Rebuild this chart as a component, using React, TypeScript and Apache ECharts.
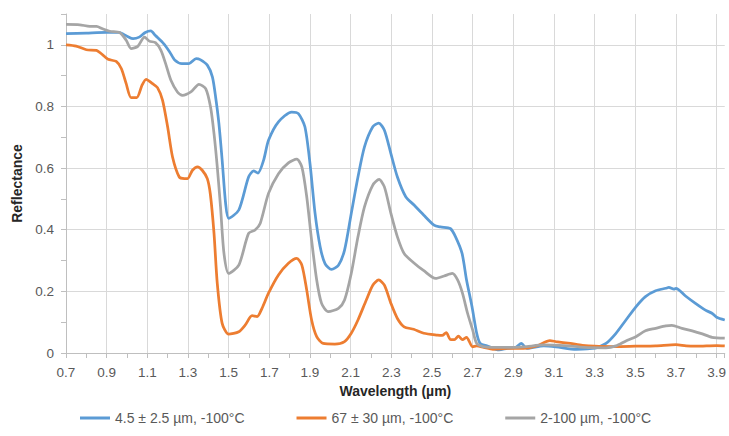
import React, { useEffect, useRef } from "react";
import * as echarts from "echarts";

const seriesNames = ["4.5 ± 2.5 µm, -100°C", "67 ± 30 µm, -100°C", "2-100 µm, -100°C"];
const seriesColors = ["#5B9BD5", "#ED7D31", "#A5A5A5"];

const blueX = [0.70, 0.80, 0.90, 0.96, 1.00, 1.03, 1.06, 1.09, 1.117, 1.14, 1.18, 1.21, 1.236, 1.27, 1.305, 1.34, 1.36, 1.395, 1.42, 1.436, 1.452, 1.468, 1.485, 1.50, 1.55, 1.598, 1.623, 1.644, 1.672, 1.696, 1.745, 1.81, 1.843, 1.875, 1.90, 1.925, 1.95, 1.974, 2.006, 2.04, 2.07, 2.103, 2.136, 2.168, 2.209, 2.238, 2.266, 2.298, 2.33, 2.371, 2.412, 2.46, 2.51, 2.542, 2.59, 2.616, 2.648, 2.67, 2.697, 2.72, 2.737, 2.77, 2.83, 2.87, 2.91, 2.94, 2.966, 3.05, 3.11, 3.21, 3.29, 3.31, 3.356, 3.405, 3.454, 3.503, 3.55, 3.60, 3.65, 3.665, 3.69, 3.70, 3.747, 3.796, 3.845, 3.877, 3.90, 3.94];
const blueY = [1.036, 1.038, 1.040, 1.040, 1.028, 1.020, 1.025, 1.040, 1.045, 1.030, 1.004, 0.977, 0.950, 0.939, 0.939, 0.955, 0.952, 0.934, 0.896, 0.830, 0.745, 0.626, 0.486, 0.437, 0.464, 0.571, 0.591, 0.584, 0.626, 0.690, 0.750, 0.782, 0.777, 0.734, 0.615, 0.453, 0.345, 0.290, 0.271, 0.285, 0.334, 0.453, 0.571, 0.669, 0.734, 0.746, 0.723, 0.647, 0.571, 0.507, 0.480, 0.447, 0.415, 0.409, 0.404, 0.377, 0.323, 0.237, 0.150, 0.064, 0.031, 0.023, 0.010, 0.015, 0.018, 0.031, 0.015, 0.023, 0.020, 0.012, 0.015, 0.017, 0.031, 0.064, 0.107, 0.150, 0.183, 0.202, 0.210, 0.213, 0.207, 0.210, 0.185, 0.161, 0.139, 0.129, 0.116, 0.107];

const orangeX = [0.70, 0.75, 0.80, 0.85, 0.874, 0.907, 0.947, 0.972, 0.996, 1.02, 1.048, 1.074, 1.094, 1.126, 1.15, 1.175, 1.20, 1.224, 1.257, 1.282, 1.298, 1.322, 1.347, 1.37, 1.395, 1.41, 1.428, 1.444, 1.468, 1.50, 1.55, 1.582, 1.615, 1.64, 1.664, 1.696, 1.745, 1.794, 1.835, 1.86, 1.884, 1.908, 1.933, 1.965, 2.022, 2.07, 2.103, 2.136, 2.177, 2.209, 2.238, 2.266, 2.298, 2.33, 2.363, 2.41, 2.46, 2.527, 2.55, 2.57, 2.59, 2.61, 2.63, 2.65, 2.67, 2.70, 2.72, 2.755, 2.80, 2.868, 2.95, 3.015, 3.08, 3.11, 3.18, 3.24, 3.30, 3.40, 3.50, 3.60, 3.70, 3.75, 3.80, 3.90, 3.94];
const orangeY = [1.000, 0.996, 0.984, 0.982, 0.971, 0.953, 0.946, 0.923, 0.874, 0.829, 0.829, 0.869, 0.888, 0.874, 0.861, 0.820, 0.733, 0.636, 0.571, 0.566, 0.566, 0.593, 0.604, 0.593, 0.566, 0.515, 0.388, 0.226, 0.096, 0.061, 0.069, 0.091, 0.121, 0.118, 0.145, 0.194, 0.253, 0.291, 0.307, 0.285, 0.204, 0.107, 0.053, 0.031, 0.029, 0.037, 0.064, 0.107, 0.172, 0.220, 0.237, 0.220, 0.161, 0.112, 0.085, 0.077, 0.064, 0.058, 0.057, 0.066, 0.044, 0.043, 0.055, 0.043, 0.051, 0.020, 0.023, 0.018, 0.012, 0.015, 0.015, 0.023, 0.040, 0.037, 0.031, 0.025, 0.022, 0.021, 0.022, 0.023, 0.027, 0.023, 0.022, 0.024, 0.023];

const grayX = [0.70, 0.768, 0.817, 0.85, 0.88, 0.915, 0.964, 0.996, 1.02, 1.053, 1.086, 1.11, 1.14, 1.167, 1.19, 1.216, 1.248, 1.273, 1.314, 1.354, 1.387, 1.411, 1.428, 1.444, 1.46, 1.477, 1.50, 1.55, 1.598, 1.63, 1.655, 1.696, 1.745, 1.794, 1.835, 1.86, 1.884, 1.908, 1.933, 1.957, 1.99, 2.04, 2.07, 2.103, 2.136, 2.168, 2.209, 2.24, 2.266, 2.298, 2.33, 2.363, 2.41, 2.46, 2.518, 2.56, 2.60, 2.626, 2.65, 2.675, 2.70, 2.72, 2.755, 2.85, 2.95, 3.05, 3.15, 3.25, 3.356, 3.405, 3.454, 3.503, 3.55, 3.60, 3.65, 3.68, 3.73, 3.78, 3.83, 3.877, 3.94];
const grayY = [1.066, 1.065, 1.060, 1.060, 1.052, 1.044, 1.040, 1.015, 0.988, 0.995, 1.025, 1.012, 1.007, 0.982, 0.939, 0.885, 0.847, 0.836, 0.847, 0.872, 0.858, 0.798, 0.712, 0.604, 0.474, 0.323, 0.258, 0.285, 0.388, 0.399, 0.420, 0.518, 0.582, 0.617, 0.629, 0.604, 0.507, 0.366, 0.237, 0.161, 0.134, 0.145, 0.172, 0.258, 0.377, 0.474, 0.545, 0.563, 0.539, 0.453, 0.377, 0.323, 0.293, 0.267, 0.242, 0.250, 0.258, 0.237, 0.194, 0.129, 0.075, 0.031, 0.020, 0.018, 0.020, 0.026, 0.024, 0.018, 0.017, 0.023, 0.039, 0.053, 0.072, 0.080, 0.088, 0.090, 0.080, 0.072, 0.062, 0.051, 0.048];

const xMin = 0.7;
const xMax = 3.94;
const xStep = 0.2;
const yMin = 0;
const yMax = 1.1;
const yStep = 0.2;

const FONT = "'Liberation Sans', Arial, sans-serif";

function zip(xs: number[], ys: number[]) {
  return xs.map((x, i) => [x, ys[i]]);
}

export default function App() {
  const ref = useRef<HTMLDivElement>(null);
  useEffect(() => {
    document.body.style.margin = "0";
    if (!ref.current) return;
    const chart = echarts.init(ref.current, undefined, { renderer: "svg" });
    const datasets = [zip(blueX, blueY), zip(orangeX, orangeY), zip(grayX, grayY)];
    chart.setOption({
      animation: false,
      textStyle: { fontFamily: FONT },
      grid: { left: 66, right: 0, top: 14, bottom: 83, containLabel: false },
      legend: {
        left: 75,
        bottom: 6,
        itemWidth: 30,
        itemHeight: 12,
        itemGap: 52,
        icon: "path://M0,5 L30,5 L30,8 L0,8 Z",
        textStyle: { fontFamily: FONT, fontSize: 14, color: "#595959" },
        data: seriesNames,
      },
      xAxis: {
        type: "value",
        min: xMin,
        max: xMax,
        interval: xStep,
        name: "Wavelength (µm)",
        nameLocation: "middle",
        nameGap: 30,
        nameTextStyle: { fontFamily: FONT, fontSize: 14, fontWeight: "bold", color: "#262626" },
        axisLine: { show: true, lineStyle: { color: "#BFBFBF", width: 1 } },
        axisTick: { show: true, length: 5, lineStyle: { color: "#BFBFBF" } },
        minorTick: { show: true, splitNumber: 2, length: 5, lineStyle: { color: "#BFBFBF" } },
        axisLabel: {
          fontFamily: FONT,
          fontSize: 13.5,
          color: "#595959",
          margin: 12,
          showMaxLabel: false,
          formatter: (v: number) => v.toFixed(1),
        },
        splitLine: { show: true, showMinLine: false, showMaxLine: false, lineStyle: { color: "#D9D9D9", width: 1 } },
      },
      yAxis: {
        type: "value",
        min: yMin,
        max: yMax,
        interval: yStep,
        name: "Reflectance",
        nameLocation: "middle",
        nameGap: 41,
        nameTextStyle: { fontFamily: FONT, fontSize: 14, fontWeight: "bold", color: "#262626" },
        axisLine: { show: true, lineStyle: { color: "#BFBFBF", width: 1 } },
        axisTick: { show: true, length: 5, lineStyle: { color: "#BFBFBF" } },
        minorTick: { show: true, splitNumber: 2, length: 5, lineStyle: { color: "#BFBFBF" } },
        axisLabel: {
          fontFamily: FONT,
          fontSize: 13.5,
          color: "#595959",
          margin: 12,
          showMaxLabel: false,
          formatter: (v: number) => (v === 0 ? "0" : Math.abs(v - 1) < 1e-9 ? "1" : v.toFixed(1)),
        },
        splitLine: { show: true, showMinLine: false, showMaxLine: false, lineStyle: { color: "#D9D9D9", width: 1 } },
      },
      series: seriesNames.map((name, i) => ({
        name,
        type: "line",
        data: datasets[i],
        showSymbol: false,
        symbol: "none",
        smooth: 0.25,
        clip: true,
        lineStyle: { color: seriesColors[i], width: 2.75 },
        itemStyle: { color: seriesColors[i] },
      })),
    });
    return () => chart.dispose();
  }, []);
  return <div ref={ref} style={{ width: 729, height: 436 }} />;
}
